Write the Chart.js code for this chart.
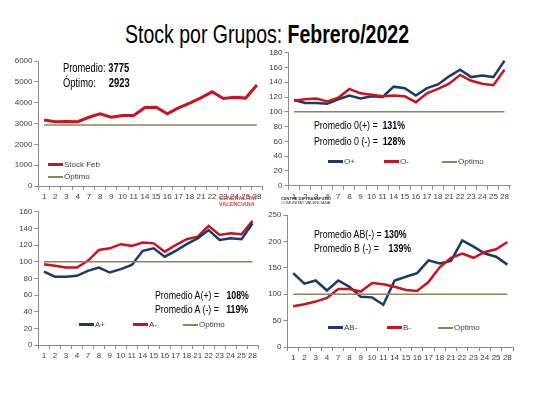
<!DOCTYPE html>
<html>
<head>
<meta charset="utf-8">
<script src="https://cdn.jsdelivr.net/npm/chart.js@4.4.1/dist/chart.umd.min.js"></script>
<style>
  body { margin: 0; width: 533px; height: 400px; background: #fff; position: relative; overflow: hidden;
         font-family: "Liberation Sans Narrow", "Liberation Sans", Arial, sans-serif; }
  canvas { position: absolute; left: 0; top: 0; }
  .t { position: absolute; white-space: nowrap; line-height: 1; color: #000; transform: scaleX(0.78); transform-origin: 0 0; }
  .p { font-size: 11px; transform: scaleX(0.8); }
  .lg { position: absolute; white-space: nowrap; font: 8px "Liberation Sans", Arial, sans-serif; color: #404040; line-height: 1; }
  .lg span.ln { display: inline-block; width: 15px; vertical-align: middle; margin-right: 1px; }
  .logo { position: absolute; white-space: nowrap; line-height: 1; font-family: "Liberation Sans", Arial, sans-serif; font-weight: bold; }
</style>
</head>
<body>
<div class="t" style="left:125px;top:22px;font-size:25px;">Stock por Grupos: <b>Febrero/2022</b></div>

<canvas id="c1" width="533" height="400"></canvas>
<canvas id="c2" width="533" height="400"></canvas>
<canvas id="c3" width="533" height="400"></canvas>
<canvas id="c4" width="533" height="400"></canvas>

<!-- panel texts -->
<div class="t" style="left:63px;top:62px;font-size:12px;">Promedio: <b>3775</b></div>
<div class="t" style="left:63px;top:77px;font-size:12px;">Óptimo:&nbsp;&nbsp;&nbsp;&nbsp;&nbsp;<b>2923</b></div>
<div class="t p" style="left:314px;top:119.5px;">Promedio 0(+) =&nbsp;&nbsp;<b>131%</b></div>
<div class="t p" style="left:314px;top:135.5px;">Promedio 0 (-) =&nbsp;&nbsp;<b>128%</b></div>
<div class="t p" style="left:155px;top:289.5px;">Promedio A(+) =&nbsp;&nbsp;&nbsp;<b>108%</b></div>
<div class="t p" style="left:155px;top:303.5px;">Promedio A (-) =&nbsp;&nbsp;&nbsp;<b>119%</b></div>
<div class="t p" style="left:314px;top:228.5px;">Promedio AB(-) = <b>130%</b></div>
<div class="t p" style="left:314px;top:242.5px;">Promedio B (-) =&nbsp;&nbsp;&nbsp;&nbsp;<b>139%</b></div>

<!-- legends -->
<div class="lg" style="left:48px;top:161px;"><span class="ln" style="height:3px;background:#c8141e"></span>Stock Feb</div>
<div class="lg" style="left:48px;top:173px;"><span class="ln" style="height:2px;background:#8b8659"></span>Óptimo</div>
<div class="lg" style="left:328px;top:158px;"><span class="ln" style="height:3px;background:#1b3a6b"></span>O+</div>
<div class="lg" style="left:384px;top:158px;"><span class="ln" style="height:3px;background:#c8141e"></span>O-</div>
<div class="lg" style="left:442px;top:158px;"><span class="ln" style="height:2px;background:#8b8659"></span>Optimo</div>
<div class="lg" style="left:79px;top:321px;"><span class="ln" style="height:3px;background:#1b3a6b"></span>A+</div>
<div class="lg" style="left:133px;top:321px;"><span class="ln" style="height:3px;background:#c8141e"></span>A-</div>
<div class="lg" style="left:183px;top:321px;"><span class="ln" style="height:2px;background:#8b8659"></span>Optimo</div>
<div class="lg" style="left:328px;top:324px;"><span class="ln" style="height:3px;background:#1b3a6b"></span>AB-</div>
<div class="lg" style="left:387px;top:324px;"><span class="ln" style="height:3px;background:#c8141e"></span>B-</div>
<div class="lg" style="left:438px;top:324px;"><span class="ln" style="height:2px;background:#8b8659"></span>Optimo</div>

<!-- logos -->
<div class="logo" style="left:219px;top:196px;font-size:5.5px;color:#c9484d;">GENERALITAT<br>VALENCIANA</div>
<div class="logo" style="left:281px;top:197px;font-size:4px;color:#333;">CENTRE DE TRANSFUSIÓ<br><span style="font-weight:normal">COMUNITAT VALENCIANA</span></div>

<script>
// days of February with stock data
const days = ['1','2','3','4','7','8','9','10','11','14','15','16','17','18','21','22','23','24','25','28'];

// total stock
const stockFeb = [3170,3080,3100,3090,3300,3470,3300,3380,3380,3770,3780,3470,3750,3980,4230,4520,4200,4260,4220,4850];
const optimoTotal = [2923,2923,2923,2923,2923,2923,2923,2923,2923,2923,2923,2923,2923,2923,2923,2923,2923,2923,2923,2923];

// group O (% of optimum)
const oPos = [116,112,112,111,117,122,118,121,120,134,132,122,132,137,148,157,147,149,147,169];
const oNeg = [115,117,118,114,119,131,125,123,121,122,121,113,125,131,138,150,142,138,136,157];

// group A
const aPos = [88,82,82,83,89,93,87,91,96,113,116,106,113,121,128,138,126,128,127,146];
const aNeg = [97,95,93,93,101,114,116,121,119,123,122,112,120,127,130,143,132,134,133,149];

// groups AB and B
const abNeg = [140,120,126,107,126,114,95,94,80,126,133,140,164,158,163,202,190,177,171,156];
const bNeg = [77,81,86,93,110,110,105,121,119,114,108,106,123,151,169,177,169,180,185,199];

const optimo = [100,100,100,100,100,100,100,100,100,100,100,100,100,100,100,100,100,100,100,100];

const RED = '#c8141e', BLUE = '#1b3a6b', OLIVE = '#8b8659', AXIS = '#8c8c8c';
const tickFont = { family: "'Liberation Sans', Arial, sans-serif", size: 8 };

function line(data, color, width) {
  return { data: data, borderColor: color, borderWidth: width, pointRadius: 0, tension: 0, fill: false };
}

//build one panel, area = chart area in page pixels
function makePanel(id, area, yMax, yStep, yw, sets) {
  const xh = 16;
  new Chart(document.getElementById(id), {
    type: 'line',
    data: { labels: days, datasets: sets },
    options: {
      responsive: false,
      animation: false,
      layout: { padding: { left: area.l - yw, top: area.t, right: 533 - area.r, bottom: 400 - area.b - xh } },
      plugins: { legend: { display: false }, tooltip: { enabled: false } },
      scales: {
        x: {
          offset: true,
          grid: { drawOnChartArea: false, offset: true, tickLength: 4, color: AXIS },
          border: { color: AXIS },
          ticks: { font: tickFont, color: '#404040', padding: 2, maxRotation: 0, autoSkip: false },
          afterFit: function (s) { s.height = xh; }
        },
        y: {
          min: 0, max: yMax,
          grid: { drawOnChartArea: false, tickLength: 4, color: AXIS },
          border: { color: AXIS },
          ticks: { stepSize: yStep, font: tickFont, color: '#404040', padding: 2,
                   callback: function (v) { return String(v); } },
          afterFit: function (s) { s.width = yw; }
        }
      }
    }
  });
}

makePanel('c1', { l: 38.5, t: 61, r: 262.5, b: 186 }, 6000, 1000, 26,
  [line(optimoTotal, OLIVE, 1.5), line(stockFeb, RED, 3)]);

makePanel('c2', { l: 288.5, t: 52.7, r: 510, b: 185.7 }, 180, 20, 22,
  [line(optimo, OLIVE, 1.5), line(oNeg, RED, 2.5), line(oPos, BLUE, 2.5)]);

makePanel('c3', { l: 38.5, t: 211.7, r: 258, b: 345 }, 160, 20, 22,
  [line(optimo, OLIVE, 1.5), line(aPos, BLUE, 2.5), line(aNeg, RED, 2.5)]);

makePanel('c4', { l: 287.5, t: 215, r: 513, b: 347 }, 250, 50, 22,
  [line(optimo, OLIVE, 1.5), line(bNeg, RED, 2.5), line(abNeg, BLUE, 2.5)]);
</script>
</body>
</html>
